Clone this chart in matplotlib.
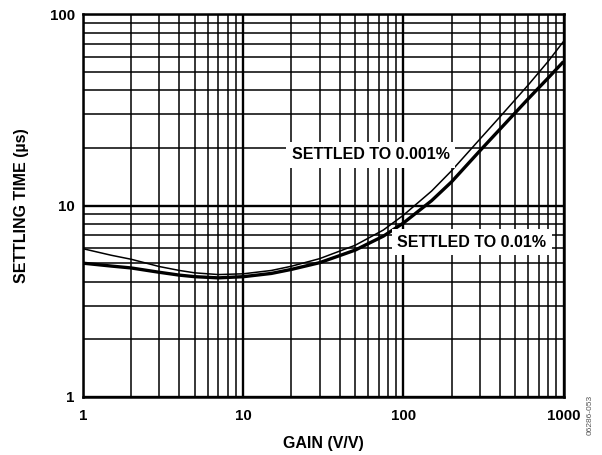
import matplotlib
matplotlib.use('Agg')
from matplotlib import pyplot as plt
from matplotlib.ticker import LogLocator, NullFormatter, FixedLocator, FixedFormatter

plt.rcParams['font.family'] = ['Liberation Sans', 'DejaVu Sans']
plt.rcParams['font.weight'] = 'bold'
plt.rcParams['axes.labelweight'] = 'bold'

# gain (V/V) and settling time (us)
gain = [1, 1.5, 2, 3, 4, 5, 7, 10, 15, 20, 30, 50, 75, 100, 150, 200, 300, 400, 600, 800, 1000]
settle_001 = [5.95, 5.5, 5.24, 4.8, 4.58, 4.45, 4.36, 4.40, 4.58, 4.82, 5.28, 6.2, 7.45, 8.9,
              11.9, 15.2, 22.2, 29.0, 42.5, 56.5, 72.0]
settle_01 = [5.0, 4.83, 4.72, 4.48, 4.33, 4.25, 4.19, 4.25, 4.42, 4.64, 5.03, 5.85, 6.92, 8.1,
             10.6, 13.3, 19.3, 25.0, 36.0, 46.3, 56.5]

x_ticks = [1, 10, 100, 1000]
x_labels = ['1', '10', '100', '1000']
y_ticks = [1, 10, 100]
y_labels = ['1', '10', '100']

fig = plt.figure(figsize=(6.02, 4.55), dpi=100)
ax = fig.add_axes([0.1379, 0.1275, 0.7982, 0.8415])

ax.set_xscale('log')
ax.set_yscale('log')
ax.set_xlim(1, 1000)
ax.set_ylim(1, 100)

# grid on every decade subdivision
ax.xaxis.set_major_locator(FixedLocator(x_ticks))
ax.xaxis.set_major_formatter(FixedFormatter(x_labels))
ax.yaxis.set_major_locator(FixedLocator(y_ticks))
ax.yaxis.set_major_formatter(FixedFormatter(y_labels))
ax.xaxis.set_minor_locator(LogLocator(base=10, subs=range(2, 10)))
ax.yaxis.set_minor_locator(LogLocator(base=10, subs=range(2, 10)))
ax.xaxis.set_minor_formatter(NullFormatter())
ax.yaxis.set_minor_formatter(NullFormatter())
ax.grid(True, which='major', color='black', lw=1.7)
ax.grid(True, which='minor', color='black', lw=1.1)
ax.set_axisbelow(True)
ax.tick_params(which='both', length=0, labelsize=10.8)
ax.tick_params(axis='x', pad=9)
ax.tick_params(axis='y', pad=6)
for s in ax.spines.values():
    s.set_linewidth(1.8)

ax.plot(gain, settle_001, color='black', lw=1.1, solid_capstyle='butt')
ax.plot(gain, settle_01, color='black', lw=2.4, solid_capstyle='butt')

box = dict(facecolor='white', edgecolor='none', pad=4)
ax.text(62.6, 18.4, 'SETTLED TO 0.001%', fontsize=11.5, ha='center', va='center', bbox=box)
ax.text(268, 6.45, 'SETTLED TO 0.01%', fontsize=11.5, ha='center', va='center', bbox=box)

ax.set_xlabel('GAIN (V/V)', fontsize=11.5, labelpad=9)
ax.set_ylabel('SETTLING TIME (µs)', fontsize=11.5, labelpad=15)

fig.text(0.98, 0.045, '06286-053', rotation=90, fontsize=6, color='#555555',
         fontweight='normal', ha='center', va='bottom')

fig.savefig('out.png', dpi=100)
